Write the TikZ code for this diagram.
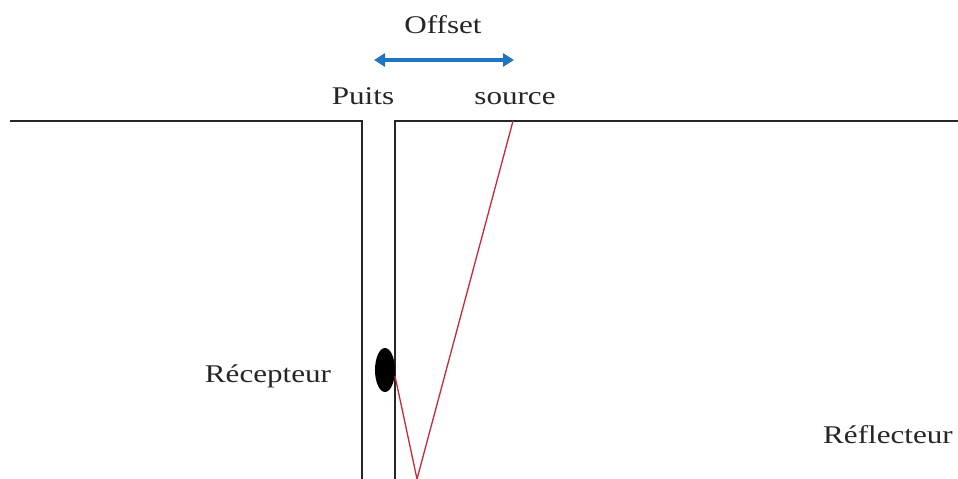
\documentclass[tikz,border=0pt]{standalone}
\usepackage{fontspec}
\setmainfont{Liberation Serif}[FakeStretch=1.22]
\usetikzlibrary{arrows.meta,shapes.geometric}
\definecolor{arrowblue}{HTML}{1F74C4}
\definecolor{raycol}{HTML}{C8283A}
\tikzset{
  lbl/.style={font=\fontsize{25.5}{28}\selectfont, text=black!85, inner sep=0pt, anchor=base},
  wall/.style={line width=1.5pt, black!85},
  ray/.style={line width=1.3pt, raycol},
  offarrow/.style={line width=3.5pt, arrowblue, {Triangle[length=11pt,width=13pt]}-{Triangle[length=11pt,width=13pt]}}
}
\begin{document}
\begin{tikzpicture}[x=1pt,y=-1pt]
\useasboundingbox (0,0) rectangle (958,479);
% ground surface and well
\coordinate (gl) at (10,121);
\coordinate (wl) at (362,121);
\coordinate (wlb) at (362,479);
\coordinate (wr) at (395,121);
\coordinate (wrb) at (395,479);
\coordinate (gr) at (958,121);
\draw[wall] (gl) -- (wl) -- (wlb);
\draw[wall] (wrb) -- (wr) -- (gr);
% receiver
\node[ellipse, fill=black, minimum width=20pt, minimum height=44pt, inner sep=0pt] (rec) at (385,370) {};
% ray path
\coordinate (src) at (513,121);
\coordinate (refl) at (417,479);
\coordinate (hit) at (395,376);
\draw[ray] (src) -- (refl) -- (hit);
% offset arrow
\coordinate (oa) at (374,60);
\coordinate (ob) at (514,60);
\draw[offarrow] (oa) -- (ob);
% labels
\node[lbl] (offset) at (443,33) {Offset};
\node[lbl] (puits) at (363,104) {Puits};
\node[lbl] (source) at (515,104) {source};
\node[lbl] (recep) at (268,382) {Récepteur};
\node[lbl] (reflect) at (888,443) {Réflecteur};
\end{tikzpicture}
\end{document}
